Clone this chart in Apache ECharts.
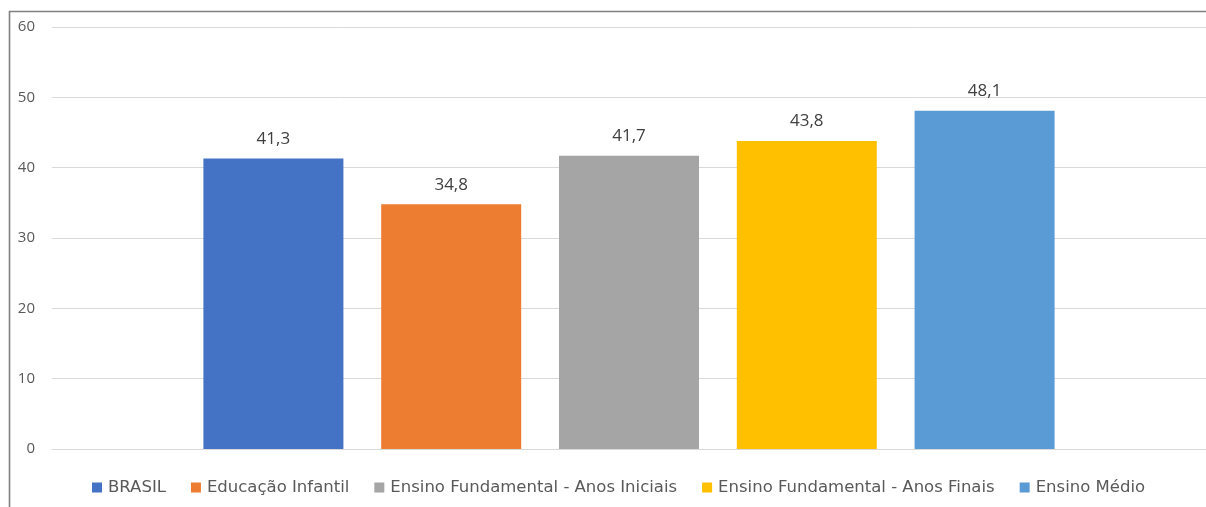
<!DOCTYPE html>
<html>
<head>
<meta charset="utf-8">
<script src="https://cdn.jsdelivr.net/npm/echarts@6/dist/echarts.min.js"></script>
<style>
  html, body { margin: 0; padding: 0; background: #fff; }
  #chart { width: 1206px; height: 507px; }
</style>
</head>
<body>
<div id="chart"></div>
<script>
// Série por etapa de ensino (uma barra cada)
const seriesNames = ['BRASIL', 'Educação Infantil', 'Ensino Fundamental - Anos Iniciais', 'Ensino Fundamental - Anos Finais', 'Ensino Médio'];
const seriesValues = [41.3, 34.8, 41.7, 43.8, 48.1];
const seriesColors = ['#4472C4', '#ED7D31', '#A5A5A5', '#FFC000', '#5B9BD5'];
const category = [''];
const yTicks = { min: 0, max: 60, interval: 10 };

const font = '"Open Sans", "Noto Sans", sans-serif';
const legendFont = '"DejaVu Sans", "Open Sans", sans-serif';

const chart = echarts.init(document.getElementById('chart'), null, { renderer: 'canvas' });

chart.setOption({
  animation: false,
  textStyle: { fontFamily: font },
  grid: { left: 52, right: 0, top: 27, bottom: 58, containLabel: false },
  legend: {
    top: 474,
    left: 87,
    itemWidth: 10,
    itemHeight: 10,
    itemGap: 25,
    icon: 'rect',
    textStyle: { color: '#595959', fontSize: 16.5, fontFamily: legendFont, padding: [0, 0, 0, 1] },
    data: seriesNames
  },
  xAxis: {
    type: 'category',
    data: category,
    axisLine: { show: true, lineStyle: { color: '#D9D9D9', width: 1 } },
    axisTick: { show: false },
    axisLabel: { show: false }
  },
  yAxis: {
    type: 'value',
    min: yTicks.min,
    max: yTicks.max,
    interval: yTicks.interval,
    axisLine: { show: false },
    axisTick: { show: false },
    axisLabel: { color: '#595959', fontSize: 15, margin: 17, fontFamily: font },
    splitLine: { lineStyle: { color: '#D9D9D9', width: 1 } }
  },
  series: seriesNames.map((name, i) => ({
    name: name,
    type: 'bar',
    data: [seriesValues[i]],
    barWidth: 140,
    barGap: '27%',
    itemStyle: { color: seriesColors[i] },
    label: {
      show: true,
      position: 'top',
      distance: 11,
      color: '#404040',
      fontSize: 17,
      fontFamily: font,
      formatter: p => p.value.toFixed(1).replace('.', ',')
    }
  })),
  graphic: [{
    type: 'polyline',
    shape: { points: [[9.5, 507], [9.5, 11.5], [1206, 11.5]] },
    style: { stroke: '#808080', lineWidth: 1.6, fill: null },
    silent: true
  }]
});
</script>
</body>
</html>
